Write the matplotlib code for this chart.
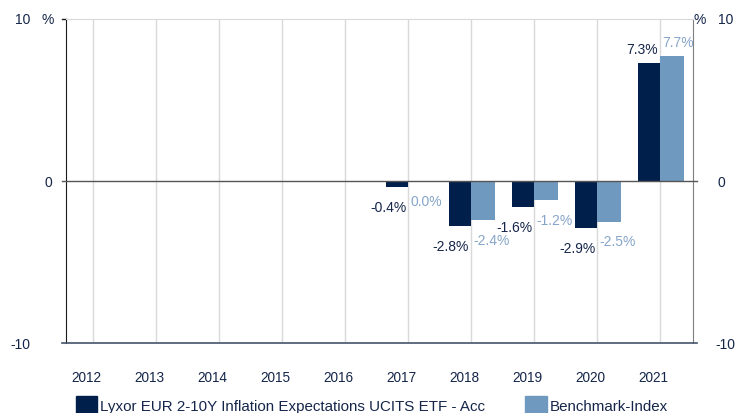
import numpy as np
import matplotlib.pyplot as plt
from matplotlib.patches import Rectangle
import matplotlib.transforms as mtransforms

plt.rcParams['font.family'] = ['Liberation Sans', 'DejaVu Sans']

years = ['2012', '2013', '2014', '2015', '2016', '2017', '2018', '2019', '2020', '2021']
fund = [None, None, None, None, None, -0.4, -2.8, -1.6, -2.9, 7.3]
bench = [None, None, None, None, None, 0.0, -2.4, -1.2, -2.5, 7.7]
fund_name = 'Lyxor EUR 2-10Y Inflation Expectations UCITS ETF - Acc'
bench_name = 'Benchmark-Index'

dark = '#001f4b'
light = '#7099bf'
dark_txt = '#15264a'
light_txt = '#86a5c9'

W, H = 736, 414
fig = plt.figure(figsize=(W / 100, H / 100), dpi=100)
ax = fig.add_axes([66 / W, 1 - 344 / H, (693 - 66) / W, (344 - 20) / H])

x = np.arange(len(years))
bw = 0.35
for i, (f, b) in enumerate(zip(fund, bench)):
    if f is not None:
        ax.bar(i - bw / 2, f, width=bw, color=dark, zorder=3)
    if b is not None:
        ax.bar(i + bw / 2 + 0.01, b, width=bw + 0.02, color=light, zorder=3)

# value labels
pt = fig.dpi_scale_trans
for i, (f, b) in enumerate(zip(fund, bench)):
    if f is None:
        continue
    for v, side, col in [(f, 'right', dark_txt), (b, 'left', light_txt)]:
        dy = 14 if v > 0 else -20
        dx = -2 if side == 'right' else 2
        off = mtransforms.ScaledTranslation(dx / 100, dy / 100, pt)
        ax.text(i, v, f'{v:.1f}%', ha=side, va='center', fontsize=10,
                color=col, transform=ax.transData + off, zorder=4)

ax.set_xlim(-0.43, 9.52)
ax.set_ylim(-10, 10)

for i in x:
    ax.axvline(i, color='#d9d9d9', lw=1, zorder=1)
ax.axhline(0, color='#555555', lw=1, zorder=4, xmin=-0.006, xmax=1.006, clip_on=False)

ax.set_xticks([])
ax.set_yticks([])
ax.spines['left'].set_color('#1a1a1a')
ax.spines['right'].set_color('#7f7f7f')
ax.spines['top'].set_color('#d9d9d9')
ax.spines['bottom'].set_visible(False)
ax.plot([-0.006, 1.006], [0, 0], transform=ax.transAxes, color='#44546a', lw=1.2, clip_on=False, zorder=5)
ax.plot([-0.006, 0], [1, 1], transform=ax.transAxes, color='#1a1a1a', lw=1, clip_on=False)

# year labels, slightly left of the category line
for i, yr in enumerate(years):
    off = mtransforms.ScaledTranslation(-0.07, 0, pt)
    ax.text(i, -12.1, yr, ha='center', va='center', fontsize=9.8, color=dark_txt,
            transform=ax.transData + off, clip_on=False)

# axis value labels
lab = dict(fontsize=10, color=dark_txt, va='center')
fig.text(30 / W, 1 - 20 / H, '10', ha='right', **lab)
fig.text(48 / W, 1 - 20 / H, '%', ha='center', **lab)
fig.text(48 / W, 1 - 183 / H, '0', ha='center', **lab)
fig.text(30 / W, 1 - 345 / H, '-10', ha='right', **lab)
fig.text(700 / W, 1 - 20 / H, '%', ha='center', **lab)
fig.text(733 / W, 1 - 20 / H, '10', ha='right', **lab)
fig.text(721 / W, 1 - 183 / H, '0', ha='center', **lab)
fig.text(735 / W, 1 - 345 / H, '-10', ha='right', **lab)

# legend
fig.patches.append(Rectangle((76 / W, 1 - 418 / H), 21 / W, 21 / H, color=dark,
                             transform=fig.transFigure, figure=fig))
fig.text(100 / W, 1 - 407 / H, fund_name, fontsize=10.9, color=dark_txt, va='center')
fig.patches.append(Rectangle((525 / W, 1 - 418 / H), 22 / W, 21 / H, color=light,
                             transform=fig.transFigure, figure=fig))
fig.text(550 / W, 1 - 407 / H, bench_name, fontsize=10.9, color=dark_txt, va='center')

fig.savefig('out.png', dpi=100)
